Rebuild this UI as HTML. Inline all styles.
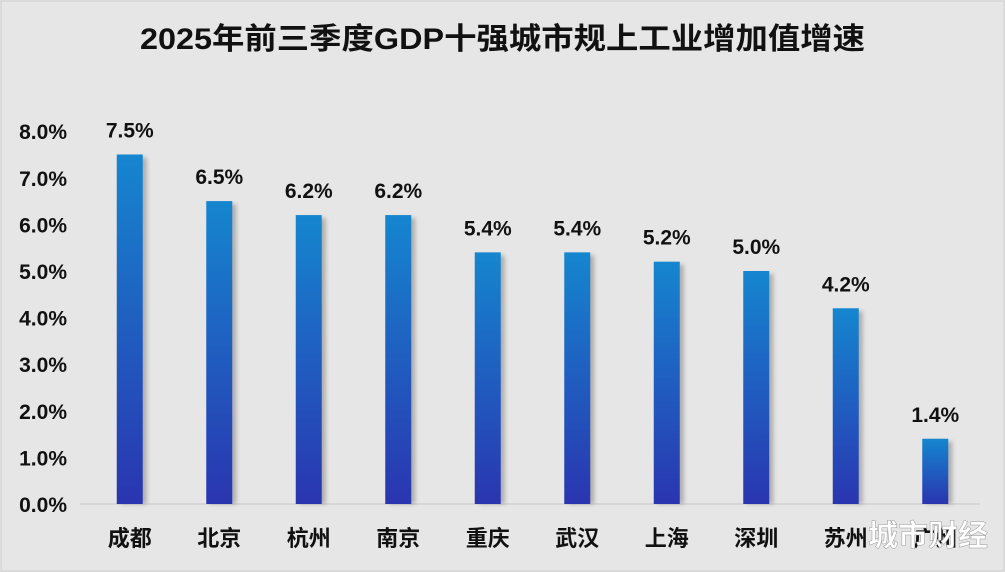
<!DOCTYPE html>
<html><head><meta charset="utf-8"><style>
body{margin:0;width:1005px;height:572px;background:#e7e6e6;overflow:hidden;font-family:"Liberation Sans","Noto Sans CJK SC",sans-serif}
svg{display:block}
</style></head><body>
<svg id="c" width="1005" height="572">
<defs>
<linearGradient id="g" x1="0" y1="0" x2="0" y2="1"><stop offset="0" stop-color="#1586cf"/><stop offset="1" stop-color="#2a35b0"/></linearGradient>
<filter id="sh" x="-50%" y="-10%" width="200%" height="120%"><feGaussianBlur stdDeviation="2"/></filter>
</defs>
<rect x="1" y="1" width="1003" height="570" fill="#e7e6e6" stroke="#cfcfcf"/>
<text x="140" y="49" textLength="725" lengthAdjust="spacingAndGlyphs" font-size="30" font-weight="bold" fill="#111">2025年前三季度GDP十强城市规上工业增加值增速</text>
</svg>
<script>
const categories=["成都","北京","杭州","南京","重庆","武汉","上海","深圳","苏州","广州"];
const values=[7.5,6.5,6.2,6.2,5.4,5.4,5.2,5.0,4.2,1.4];
const yTicks=[0,1,2,3,4,5,6,7,8];
const svg=document.getElementById('c');const NS='http://www.w3.org/2000/svg';
const x0=85,x1=980,y0=504,pxPer=46.6;
const y=v=>y0-v*pxPer;
const band=(x1-x0)/categories.length;
const xc=i=>x0+band*(i+0.5);
function mk(t,a,txt){const e=document.createElementNS(NS,t);for(const k in a)e.setAttribute(k,a[k]);if(txt!=null)e.textContent=txt;svg.appendChild(e);return e;}
yTicks.forEach(t=>{const e=mk('text',{x:67,y:y(t)+8,'text-anchor':'end','font-size':21,'font-weight':'bold',fill:'#111'},t.toFixed(1)+'%');

});
const base=mk('line',{x1:x0-5,x2:x1,y1:y0,y2:y0,stroke:'#d0d0d0','stroke-width':1.5});


categories.forEach((c,i)=>{const w=26,cx=xc(i);
const s=mk('rect',{x:cx-w/2+4,y:y(values[i])+3,width:w,height:y0-y(values[i])-3,fill:'#888',opacity:0.6,filter:'url(#sh)'});


const b=mk('rect',{x:cx-w/2,y:y(values[i]),width:w,height:y0-y(values[i]),fill:'url(#g)'});


const l=mk('text',{x:cx,y:y(values[i])-17,'text-anchor':'middle','font-size':21,'font-weight':'bold',fill:'#111'},values[i].toFixed(1)+'%');


const cl=mk('text',{x:cx,y:546,'text-anchor':'middle','font-size':22,'font-weight':'bold',fill:'#111'},c);

});
const wm=mk('text',{x:928,y:546,'text-anchor':'middle','font-size':30,'font-weight':'bold',fill:'#fff',stroke:'#999','stroke-width':0.5},'城市财经');


</script>
</body></html>
